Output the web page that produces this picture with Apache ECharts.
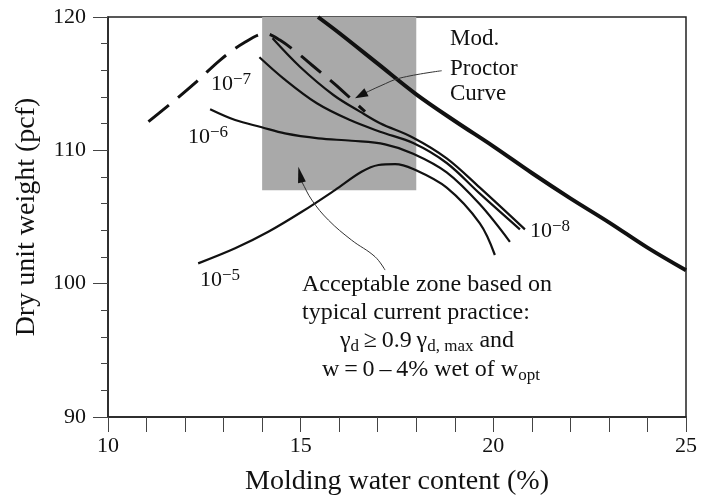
<!DOCTYPE html>
<html>
<head>
<meta charset="utf-8">
<script src="https://cdn.jsdelivr.net/npm/echarts@6/dist/echarts.min.js"></script>
<style>
  html, body { margin: 0; padding: 0; background: #fff; }
  #chart { width: 704px; height: 502px; }
</style>
</head>
<body>
<div id="chart"></div>
<script>
// ---- data: molding water content (%) vs dry unit weight (pcf) ----
// heavy solid line on the wet side
const zavLine = [[15.45,120],[16,118.8],[17,116.5],[18,114.2],[19,112.2],[20,110.3],[21,108.3],[22,106.4],[23,104.6],[24,102.7],[25,101.0]];
// modified Proctor compaction curve (dashed)
const proctorCurve = [[11.05,112.15],[11.69,113.65],[12.3,115.15],[12.91,116.77],[13.51,118.03],[14.08,118.75],[14.46,118.27],[14.98,117.15],[15.29,116.4],[15.81,115.15],[16.06,114.52],[16.67,112.9]];
// lines of equal hydraulic conductivity (cm/s)
const k1e8 = [[14.27,118.4],[14.98,116.27],[15.85,114.15],[16.54,112.9],[17.06,112.03],[17.92,110.95],[18.79,109.4],[19.65,107.2],[20.82,104.07]];
const k1e7 = [[13.93,116.98],[14.55,115.4],[15.42,113.53],[16.28,112.27],[17.06,111.4],[17.92,110.55],[18.79,109.05],[19.65,106.75],[20.69,104.07]];
const k1e6 = [[12.65,113.08],[13.3,112.27],[13.99,111.73],[14.59,111.27],[15.46,110.9],[16.32,110.72],[17.19,110.45],[17.92,109.75],[18.79,108.35],[19.65,105.95],[20.43,103.14]];
const k1e5 = [[12.34,101.52],[13.3,102.65],[14.16,103.89],[15.03,105.39],[15.89,107.02],[16.58,108.39],[17.02,108.9],[17.45,108.97],[17.92,108.6],[18.79,107.2],[19.65,104.52],[20.04,102.15]];
// acceptable zone: water content range and minimum dry unit weight
const zoneW = [14, 18];
const zoneGamma = [107, 120];
// axis ranges and ticks
const xRange = [10, 25], xStep = 5;
const yRange = [90, 120], yStep = 10;

const serif = '"Liberation Serif","DejaVu Serif",serif';
const ink = '#111';

const chart = echarts.init(document.getElementById('chart'), null, { renderer: 'canvas' });

function curve(data, width, type, z) {
  return {
    type: 'line', data: data, smooth: 0.35, symbol: 'none', z: z || 3,
    lineStyle: { color: ink, width: width, type: type || 'solid', cap: 'butt' },
    silent: true, animation: false, clip: true
  };
}

const zoneSeries = {
  type: 'line', data: [], z: 1, silent: true,
  markArea: {
    silent: true,
    itemStyle: { color: '#a9a9a9', opacity: 1 },
    data: [[{ coord: [zoneW[0], zoneGamma[0]] }, { coord: [zoneW[1], zoneGamma[1]] }]]
  }
};

chart.setOption({
  animation: false,
  backgroundColor: '#fff',
  grid: { left: 108, right: 18, top: 17, bottom: 85, show: true, borderColor: '#222', borderWidth: 1.5, backgroundColor: 'transparent' },
  xAxis: {
    type: 'value', min: xRange[0], max: xRange[1], interval: xStep,
    name: 'Molding water content (%)', nameLocation: 'middle', nameGap: 51,
    nameTextStyle: { fontFamily: serif, fontSize: 28, color: ink },
    axisLine: { lineStyle: { color: '#222', width: 1.5 } },
    axisTick: { length: 15, lineStyle: { color: '#444', width: 1 } },
    minorTick: { show: true, splitNumber: 5, length: 15, lineStyle: { color: '#444', width: 1 } },
    axisLabel: { fontFamily: serif, fontSize: 22, color: ink, margin: 18 },
    splitLine: { show: false }
  },
  yAxis: {
    type: 'value', min: yRange[0], max: yRange[1], interval: yStep,
    name: 'Dry unit weight (pcf)', nameLocation: 'middle', nameGap: 67,
    nameTextStyle: { fontFamily: serif, fontSize: 28, color: ink },
    axisLine: { lineStyle: { color: '#222', width: 1.5 } },
    axisTick: { length: 15, lineStyle: { color: '#444', width: 1 } },
    minorTick: { show: true, splitNumber: 5, length: 7, lineStyle: { color: '#444', width: 1 } },
    axisLabel: { fontFamily: serif, fontSize: 22, color: ink, margin: 22 },
    splitLine: { show: false }
  },
  series: [
    zoneSeries,
    curve(zavLine, 4, 'solid', 4),
    curve(proctorCurve, 3, [26, 12], 4),
    curve(k1e8, 2.2),
    curve(k1e7, 2.2),
    curve(k1e6, 2.2),
    curve(k1e5, 2.2)
  ]
});

// ---- annotations ----
function leader(pts, headLen, headHalf) {
  const px = pts.map(p => chart.convertToPixel({ gridIndex: 0 }, p));
  const tip = px[px.length - 1], prev = px[px.length - 2];
  const dx = tip[0] - prev[0], dy = tip[1] - prev[1];
  const len = Math.hypot(dx, dy), ux = dx / len, uy = dy / len;
  const base = [tip[0] - ux * headLen, tip[1] - uy * headLen];
  const head = [tip, [base[0] - uy * headHalf, base[1] + ux * headHalf], [base[0] + uy * headHalf, base[1] - ux * headHalf]];
  const line = px.slice(0, -1).concat([base]);
  return [
    { type: 'polyline', z: 10, silent: true, shape: { points: line, smooth: 0.4 }, style: { stroke: '#333', lineWidth: 1, fill: null } },
    { type: 'polygon', z: 10, silent: true, shape: { points: head }, style: { fill: ink } }
  ];
}

// baseline-anchored rich text
function label(x, baseline, size, text, rich, align) {
  return {
    type: 'text', z: 12, silent: true,
    style: {
      x: x, y: baseline - 0.34 * size, text: text, rich: rich,
      fontFamily: serif, fontSize: size, fill: ink,
      align: align || 'left', verticalAlign: 'middle'
    }
  };
}

const powRich = {
  b: { fontFamily: serif, fontSize: 22, lineHeight: 26, color: ink },
  s: { fontFamily: serif, fontSize: 17, lineHeight: 14, verticalAlign: 'top', color: ink }
};
const noteRich = {
  n: { fontFamily: serif, fontSize: 24, lineHeight: 28, color: ink },
  d: { fontFamily: serif, fontSize: 17, lineHeight: 13, verticalAlign: 'bottom', color: ink }
};
const nameRich = { n: { fontFamily: serif, fontSize: 23, lineHeight: 27, color: ink } };

// proctor leader from the curve name
const proctorArrow = [[18.66,115.97],[17.58,115.42],[17.06,114.82],[16.67,114.3],[16.41,113.9]];
// zone leader from the note below
const zoneArrow = [[17.19,101.02],[16.93,102.02],[16.32,103.27],[15.72,104.77],[15.29,106.27],[15.03,107.64],[14.94,108.77]];

const graphics = []
  .concat(leader(proctorArrow, 13, 4.5))
  .concat(leader(zoneArrow, 16, 4))
  .concat([
    label(450, 46.7, 23, '{n|Mod.}', nameRich),
    label(450, 76.7, 23, '{n|Proctor}', nameRich),
    label(450, 102, 23, '{n|Curve}', nameRich),
    label(211, 91.7, 22, '{b|10}{s|\u22127}', powRich),
    label(188, 145, 22, '{b|10}{s|\u22126}', powRich),
    label(200, 287.3, 22, '{b|10}{s|\u22125}', powRich),
    label(530, 238.3, 22, '{b|10}{s|\u22128}', powRich),
    label(302, 292.7, 24, '{n|Acceptable zone based on}', noteRich),
    label(302, 320.7, 24, '{n|typical current practice:}', noteRich),
    label(427, 349, 24, '{n|\u03b3}{d|d}{n|\u2009\u2265\u20090.9\u2009\u03b3}{d|d, max}{n| and}', noteRich, 'center'),
    label(431, 378, 24, '{n|w\u2009=\u20090\u2009\u2013\u20094% wet of w}{d|opt}', noteRich, 'center')
  ]);

chart.setOption({ graphic: graphics });
</script>
</body>
</html>
